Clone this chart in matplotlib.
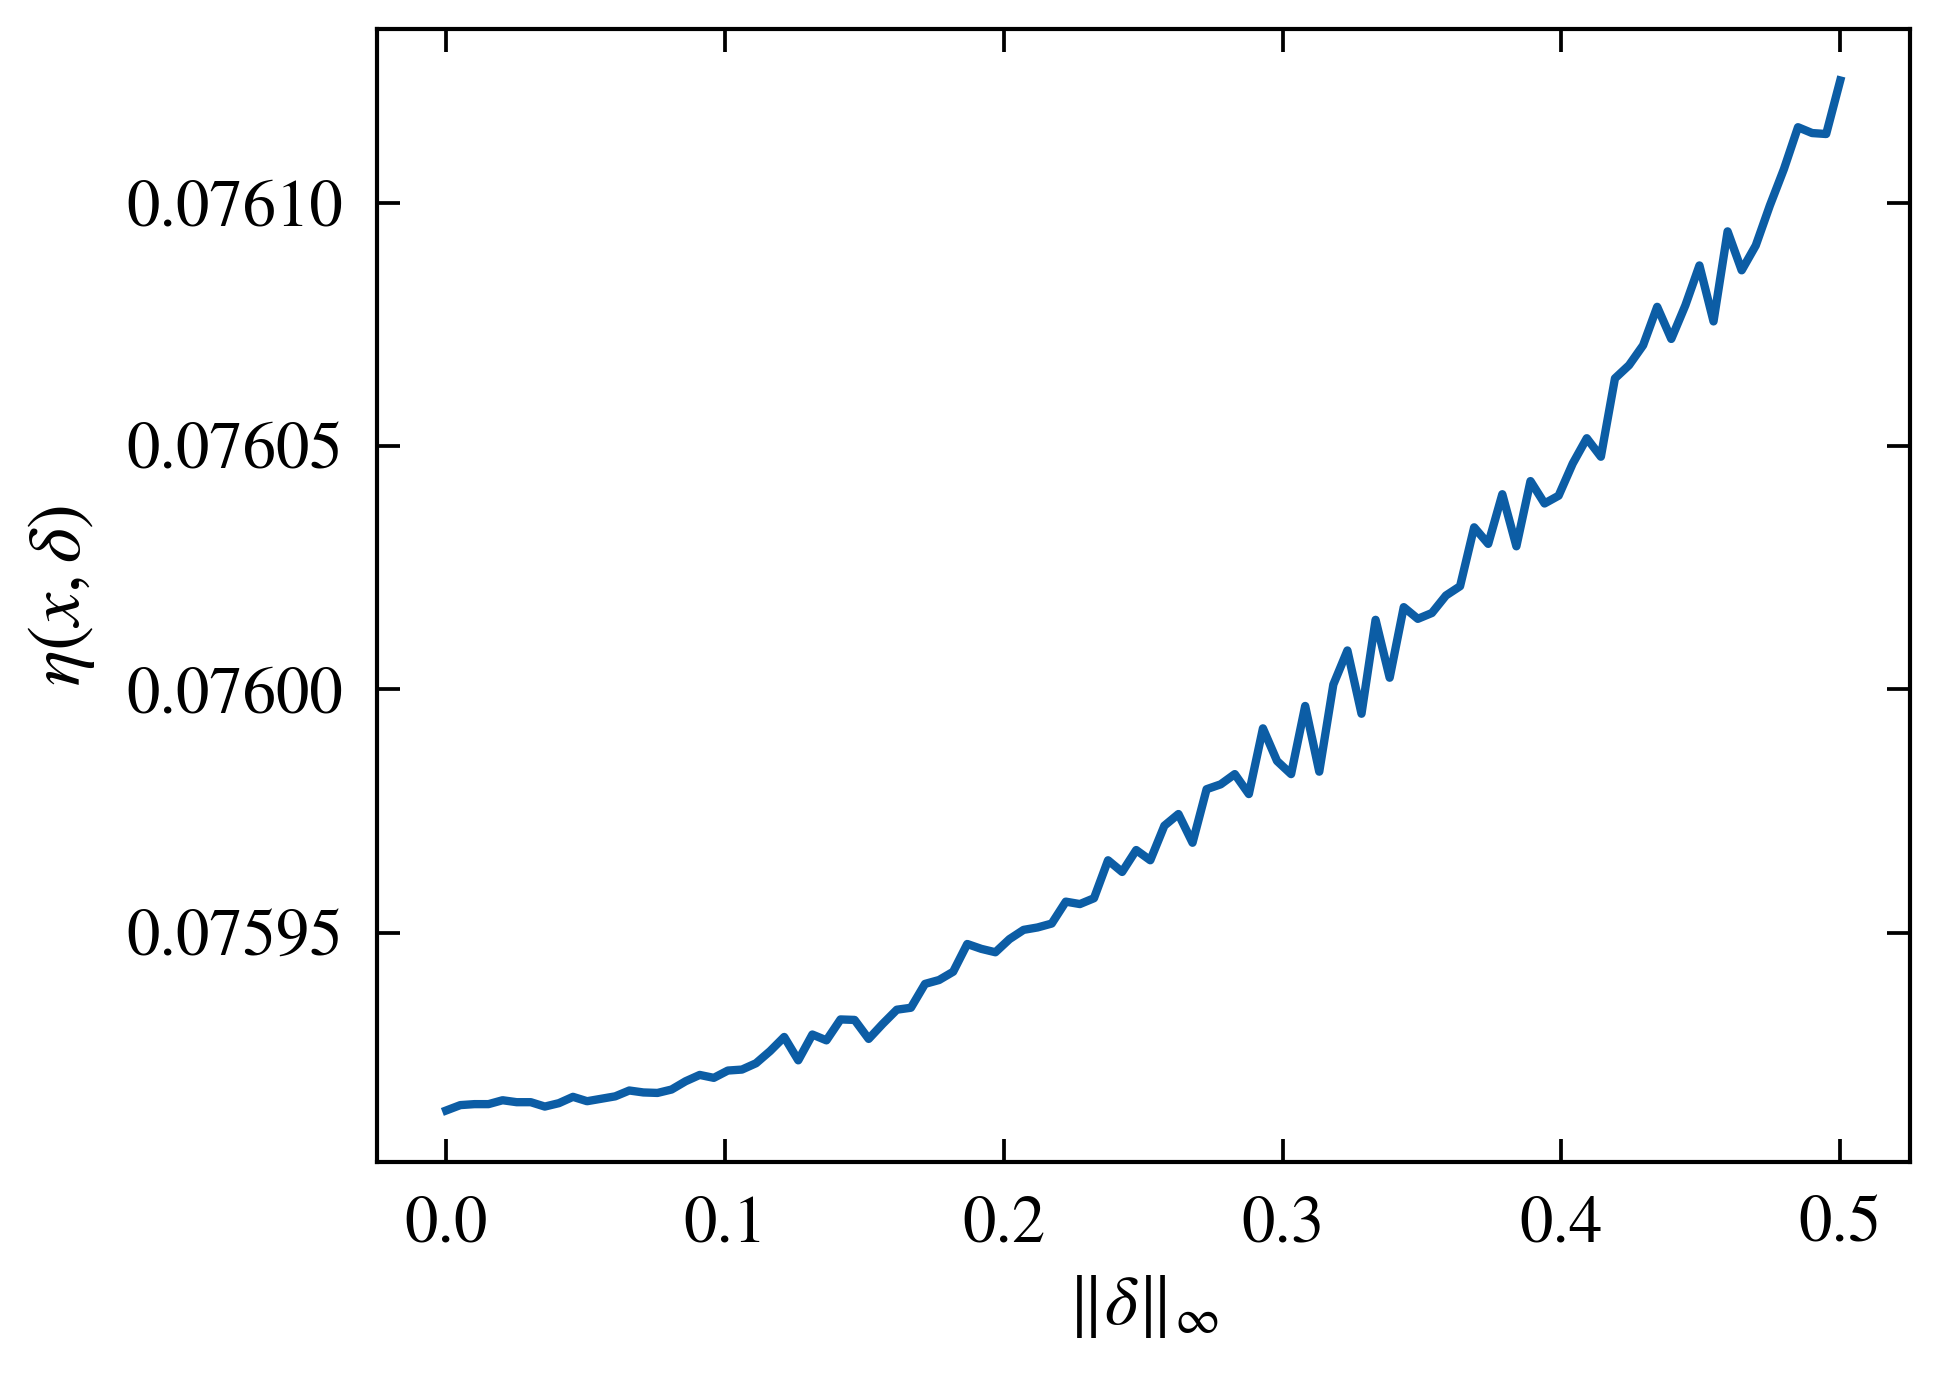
import numpy as np
import matplotlib
matplotlib.use("Agg")
import matplotlib.pyplot as plt

# perturbation size (100 evenly spaced points from 0 to 0.5)
delta = np.linspace(0, 0.5, 100)

# eta(x, delta)
eta = [
    0.0759135, 0.0759146, 0.0759148, 0.0759148, 0.0759156, 0.0759152, 0.0759152, 0.0759143, 0.0759150, 0.0759163,
    0.0759154, 0.0759159, 0.0759164, 0.0759176, 0.0759172, 0.0759171, 0.0759178, 0.0759195, 0.0759208, 0.0759202,
    0.0759217, 0.0759219, 0.0759232, 0.0759257, 0.0759286, 0.0759238, 0.0759291, 0.0759279, 0.0759322, 0.0759321,
    0.0759282, 0.0759313, 0.0759342, 0.0759346, 0.0759395, 0.0759403, 0.0759420, 0.0759477, 0.0759467, 0.0759460,
    0.0759487, 0.0759506, 0.0759511, 0.0759519, 0.0759564, 0.0759559, 0.0759571, 0.0759649, 0.0759625, 0.0759670,
    0.0759649, 0.0759720, 0.0759744, 0.0759685, 0.0759795, 0.0759805, 0.0759826, 0.0759785, 0.0759920, 0.0759853,
    0.0759826, 0.0759966, 0.0759831, 0.0760010, 0.0760080, 0.0759950, 0.0760143, 0.0760024, 0.0760169, 0.0760145,
    0.0760157, 0.0760193, 0.0760212, 0.0760333, 0.0760299, 0.0760401, 0.0760294, 0.0760428, 0.0760382, 0.0760398,
    0.0760464, 0.0760516, 0.0760478, 0.0760639, 0.0760666, 0.0760707, 0.0760786, 0.0760720, 0.0760789, 0.0760871,
    0.0760756, 0.0760941, 0.0760861, 0.0760912, 0.0760994, 0.0761069, 0.0761155, 0.0761143, 0.0761141, 0.0761251,
]

xticks = [0.0, 0.1, 0.2, 0.3, 0.4, 0.5]
yticks = [0.07595, 0.07600, 0.07605, 0.07610]

plt.rcParams["font.family"] = "STIXGeneral"
plt.rcParams["mathtext.fontset"] = "stix"
plt.rcParams["font.size"] = 16

fig, ax = plt.subplots(figsize=(6.47, 4.6), dpi=300)
fig.subplots_adjust(left=0.194, right=0.984, top=0.979, bottom=0.158)

ax.plot(delta, eta, color="#0C5DA5", linewidth=2.0)

ax.set_xticks(xticks)
ax.set_xticklabels(["%.1f" % t for t in xticks])
ax.set_yticks(yticks)
ax.set_yticklabels(["%.5f" % t for t in yticks])

ax.set_xlabel(r"$\Vert\delta\Vert_\infty$", fontsize=17)
ax.set_ylabel(r"$\eta(x,\delta)$", fontsize=18, labelpad=7)

ax.tick_params(direction="in", top=True, right=True, length=5.5, width=0.9, pad=8, labelsize=16)
for s in ax.spines.values():
    s.set_linewidth(1.0)

fig.savefig("out.png", dpi=300)
